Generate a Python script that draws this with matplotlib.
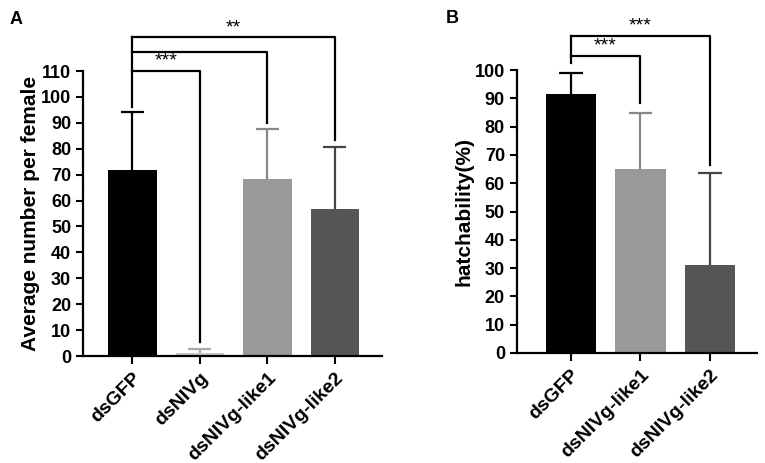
import matplotlib
matplotlib.use('Agg')
from matplotlib import pyplot as plt

plt.rcParams['font.family'] = ['Liberation Sans', 'DejaVu Sans']
plt.rcParams['font.weight'] = 'bold'

# panel A: eggs per female
a_groups = ['dsGFP', 'dsNIVg', 'dsNIVg-like1', 'dsNIVg-like2']
a_means = [71.7, 1.2, 68.3, 56.7]
a_errs = [22.5, 1.5, 19.3, 24.1]
a_colors = ['#000000', '#c8c8c8', '#999999', '#555555']
a_err_colors = ['#000000', '#aaaaaa', '#888888', '#444444']
a_ticks = list(range(0, 111, 10))

# panel B: hatchability
b_groups = ['dsGFP', 'dsNIVg-like1', 'dsNIVg-like2']
b_means = [91.4, 65.0, 31.1]
b_errs = [7.6, 19.9, 32.5]
b_colors = ['#000000', '#999999', '#555555']
b_err_colors = ['#000000', '#888888', '#444444']
b_ticks = list(range(0, 101, 10))

# significance brackets: (from, to, bracket height, leg bottom at target, label)
a_sig = [(0, 1, 110, 5.4, '***'), (0, 2, 117.2, 90, ''), (0, 3, 123, 83.4, '**')]
b_sig = [(0, 1, 105, 88.4, '***'), (0, 2, 112, 66.4, '***')]


def draw_panel(ax, groups, means, errs, colors, err_colors, ticks, ylabel, sig, leg0, xlim):
    x = list(range(len(groups)))
    ax.bar(x, means, width=0.72, color=colors, zorder=2)
    # one-sided (upper) error bars
    tops = [m + e for m, e in zip(means, errs)]
    ax.vlines(x, means, tops, colors=err_colors, lw=1.6, zorder=3)
    ax.hlines(tops, [xi - 0.17 for xi in x], [xi + 0.17 for xi in x],
              colors=err_colors, lw=1.6, zorder=3)
    ax.set_xlim(*xlim)
    ax.set_ylim(0, ticks[-1])
    ax.set_yticks(ticks)
    ax.set_xticks(x)
    ax.set_xticklabels(groups, rotation=45, ha='right', rotation_mode='anchor',
                       fontsize=14, fontweight='bold')
    ax.tick_params(axis='y', labelsize=13, width=1.5, length=5)
    ax.tick_params(axis='x', width=1.5, length=6)
    for lab in ax.get_yticklabels():
        lab.set_fontweight('bold')
    ax.spines['top'].set_visible(False)
    ax.spines['right'].set_visible(False)
    ax.spines['left'].set_linewidth(1.6)
    ax.spines['bottom'].set_linewidth(1.6)
    ax.set_ylabel(ylabel, fontsize=15, fontweight='bold', labelpad=1)
    top = max(s[2] for s in sig)
    ax.plot([0, 0], [leg0, top], color='black', lw=1.6, clip_on=False, zorder=4)
    for x0, x1, h, bottom, label in sig:
        ax.plot([x0, x1, x1], [h, h, bottom], color='black', lw=1.6,
                clip_on=False, zorder=4)
        if label:
            ax.text((x0 + x1) / 2, h + 0.5, label, ha='center', va='bottom',
                    fontsize=14, fontweight='normal')


fig = plt.figure(figsize=(7.65, 4.63), dpi=100)
ax_a = fig.add_axes([0.1085, 0.231, 0.391, 0.6156])
ax_b = fig.add_axes([0.6754, 0.2376, 0.314, 0.611])

draw_panel(ax_a, a_groups, a_means, a_errs, a_colors, a_err_colors, a_ticks,
           'Average number per female', a_sig, 96, (-0.73, 3.70))
draw_panel(ax_b, b_groups, b_means, b_errs, b_colors, b_err_colors, b_ticks,
           'hatchability(%)', b_sig, 102.4, (-0.775, 2.67))

fig.text(0.012, 0.957, 'A', fontsize=13, fontweight='bold', va='center')
fig.text(0.583, 0.96, 'B', fontsize=13, fontweight='bold', va='center')

fig.savefig('out.png', dpi=100)
